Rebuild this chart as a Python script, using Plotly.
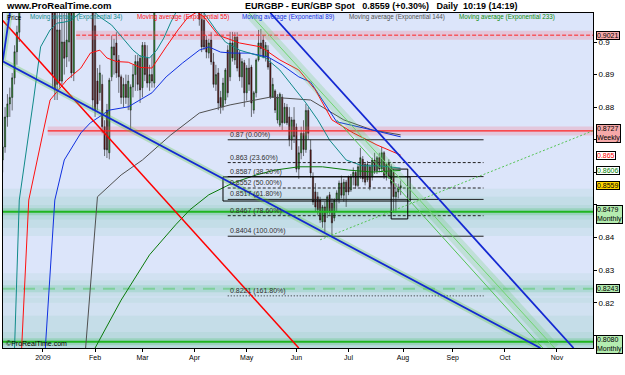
import pandas as pd
import plotly.graph_objects as go

# ---------------- candles: (open, high, low, close), one tuple per weekday ----------------
dec_2008 = [
    (0.8638, 0.8770, 0.8600, 0.8678), (0.8678, 0.8800, 0.8660, 0.8770), (0.8770, 0.8840, 0.8740, 0.8810),
    (0.8810, 0.8860, 0.8770, 0.8830), (0.8830, 0.8905, 0.8790, 0.8890), (0.8890, 0.8990, 0.8870, 0.8970),
    (0.8970, 0.9050, 0.8930, 0.9030), (0.9030, 0.9200, 0.9000, 0.9150), (0.9150, 0.9400, 0.9120, 0.9350),
    (0.9350, 0.9500, 0.9300, 0.9450), (0.9450, 0.9550, 0.9400, 0.9500), (0.9500, 0.9600, 0.9450, 0.9550),
    (0.9550, 0.9600, 0.9500, 0.9560), (0.9560, 0.9650, 0.9500, 0.9600), (0.9600, 0.9800, 0.9550, 0.9750),
    (0.9750, 0.9800, 0.9500, 0.9600), (0.9600, 0.9750, 0.9500, 0.9700),
]
jan_2009 = [
    (0.9700, 0.9720, 0.9600, 0.9650), (0.9650, 0.9700, 0.9450, 0.9500), (0.9500, 0.9550, 0.9300, 0.9350),
    (0.9350, 0.9400, 0.9150, 0.9200), (0.9200, 0.9250, 0.8860, 0.8900), (0.9100, 0.9150, 0.8822, 0.8853),
    (0.8870, 0.9100, 0.8822, 0.9037), (0.9037, 0.9120, 0.8860, 0.8880), (0.8880, 0.9100, 0.8870, 0.9000),
    (0.9000, 0.9100, 0.8900, 0.8950), (0.8954, 0.9100, 0.8923, 0.9006), (0.9000, 0.9150, 0.8940, 0.9100),
    (0.9150, 0.9200, 0.8890, 0.8905), (0.8905, 0.9300, 0.8880, 0.9250), (0.9250, 0.9400, 0.9200, 0.9350),
    (0.9350, 0.9500, 0.9300, 0.9450), (0.9450, 0.9550, 0.9350, 0.9400), (0.9400, 0.9450, 0.9250, 0.9300),
    (0.9300, 0.9400, 0.9150, 0.9200), (0.9200, 0.9350, 0.9120, 0.9300), (0.9300, 0.9400, 0.9150, 0.9250),
    (0.9250, 0.9300, 0.8790, 0.8822),
]
feb_2009 = [
    (0.9050, 0.9100, 0.8770, 0.8790), (0.8880, 0.8920, 0.8790, 0.8810), (0.8845, 0.8930, 0.8820, 0.8905),
    (0.8870, 0.8900, 0.8720, 0.8740), (0.8740, 0.8760, 0.8650, 0.8670), (0.8791, 0.8810, 0.8644, 0.8669),
    (0.8660, 0.8890, 0.8640, 0.8883), (0.8893, 0.9020, 0.8880, 0.8985), (0.8985, 0.9010, 0.8900, 0.8960),
    (0.8997, 0.9030, 0.8890, 0.8905), (0.8945, 0.8960, 0.8844, 0.8893), (0.8893, 0.8900, 0.8810, 0.8830),
    (0.8830, 0.8890, 0.8800, 0.8870), (0.8870, 0.8900, 0.8810, 0.8830), (0.8830, 0.8899, 0.8791, 0.8880),
    (0.8791, 0.8870, 0.8730, 0.8862), (0.8862, 0.8930, 0.8830, 0.8900), (0.8900, 0.8960, 0.8850, 0.8940),
    (0.8940, 0.8960, 0.8850, 0.8870), (0.8950, 0.8960, 0.8813, 0.8853),
]
mar_2009 = [
    (0.8860, 0.9000, 0.8830, 0.8990), (0.8990, 0.9000, 0.8880, 0.8900), (0.8950, 0.8990, 0.8860, 0.8874),
    (0.8874, 0.8930, 0.8850, 0.8900), (0.8900, 0.8960, 0.8860, 0.8880), (0.8874, 0.9200, 0.8860, 0.9150),
    (0.9150, 0.9350, 0.9120, 0.9300), (0.9300, 0.9400, 0.9250, 0.9350), (0.9350, 0.9450, 0.9250, 0.9300),
    (0.9300, 0.9350, 0.9200, 0.9250), (0.9250, 0.9300, 0.9150, 0.9200), (0.9200, 0.9350, 0.9180, 0.9300),
    (0.9300, 0.9500, 0.9250, 0.9450), (0.9450, 0.9550, 0.9350, 0.9400), (0.9400, 0.9450, 0.9300, 0.9350),
    (0.9350, 0.9400, 0.9200, 0.9250), (0.9250, 0.9300, 0.9150, 0.9200), (0.9200, 0.9300, 0.9130, 0.9250),
    (0.9250, 0.9350, 0.9150, 0.9200), (0.9200, 0.9300, 0.9150, 0.9250), (0.9250, 0.9400, 0.9200, 0.9300),
    (0.9300, 0.9350, 0.9200, 0.9250),
]
apr_2009 = [
    (0.9250, 0.9300, 0.9150, 0.9180), (0.9180, 0.9250, 0.9120, 0.9150), (0.9150, 0.9180, 0.9050, 0.9070),
    (0.9070, 0.9120, 0.8969, 0.8985), (0.9067, 0.9090, 0.8975, 0.8985), (0.9006, 0.9020, 0.8950, 0.8969),
    (0.8966, 0.9010, 0.8950, 0.8997), (0.9006, 0.9030, 0.8930, 0.8939), (0.8939, 0.8966, 0.8860, 0.8870),
    (0.8870, 0.8930, 0.8850, 0.8900), (0.8905, 0.8920, 0.8791, 0.8813), (0.8830, 0.8850, 0.8780, 0.8801),
    (0.8801, 0.8890, 0.8790, 0.8874), (0.8822, 0.8920, 0.8810, 0.8914), (0.8975, 0.8990, 0.8830, 0.8844),
    (0.8893, 0.9031, 0.8880, 0.8997), (0.8997, 0.9031, 0.8940, 0.8951), (0.8945, 0.9030, 0.8930, 0.9015),
    (0.9015, 0.9030, 0.8910, 0.8920), (0.8966, 0.8975, 0.8880, 0.8893), (0.8893, 0.8950, 0.8860, 0.8940),
    (0.8936, 0.8945, 0.8801, 0.8844),
]
may_2009 = [
    (0.8844, 0.8929, 0.8820, 0.8920), (0.8920, 0.8950, 0.8850, 0.8870), (0.8923, 0.8930, 0.8770, 0.8813),
    (0.8791, 0.8850, 0.8780, 0.8844), (0.8844, 0.8950, 0.8830, 0.8945), (0.8945, 0.9037, 0.8940, 0.8997),
    (0.8997, 0.9040, 0.8960, 0.8980), (0.9006, 0.9020, 0.8950, 0.8954), (0.8954, 0.9000, 0.8940, 0.8990),
    (0.8975, 0.8990, 0.8915, 0.8923), (0.8936, 0.8950, 0.8825, 0.8831), (0.8831, 0.8890, 0.8830, 0.8870),
    (0.8850, 0.8855, 0.8782, 0.8791), (0.8761, 0.8840, 0.8750, 0.8831), (0.8745, 0.8845, 0.8739, 0.8840),
    (0.8831, 0.8840, 0.8730, 0.8752), (0.8752, 0.8813, 0.8750, 0.8800), (0.8800, 0.8810, 0.8745, 0.8752),
    (0.8770, 0.8800, 0.8680, 0.8700), (0.8699, 0.8770, 0.8669, 0.8761), (0.8761, 0.8800, 0.8690, 0.8710),
]
jun_2009 = [
    (0.8739, 0.8750, 0.8600, 0.8610), (0.8610, 0.8680, 0.8580, 0.8660), (0.8660, 0.8740, 0.8640, 0.8720),
    (0.8720, 0.8760, 0.8650, 0.8670), (0.8670, 0.8810, 0.8660, 0.8790), (0.8790, 0.8800, 0.8700, 0.8720),
    (0.8669, 0.8700, 0.8583, 0.8598), (0.8586, 0.8600, 0.8500, 0.8509), (0.8540, 0.8567, 0.8480, 0.8494),
    (0.8525, 0.8540, 0.8470, 0.8485), (0.8515, 0.8525, 0.8445, 0.8454), (0.8448, 0.8500, 0.8430, 0.8494),
    (0.8494, 0.8510, 0.8417, 0.8448), (0.8476, 0.8530, 0.8460, 0.8525), (0.8531, 0.8540, 0.8470, 0.8479),
    (0.8506, 0.8520, 0.8402, 0.8445), (0.8460, 0.8520, 0.8450, 0.8515), (0.8515, 0.8545, 0.8480, 0.8537),
    (0.8515, 0.8575, 0.8505, 0.8567), (0.8567, 0.8590, 0.8520, 0.8530), (0.8530, 0.8580, 0.8510, 0.8570),
    (0.8570, 0.8577, 0.8494, 0.8540),
]
jul_2009 = [
    (0.8586, 0.8590, 0.8530, 0.8540), (0.8546, 0.8595, 0.8540, 0.8586), (0.8586, 0.8615, 0.8560, 0.8600),
    (0.8600, 0.8605, 0.8550, 0.8560), (0.8560, 0.8625, 0.8555, 0.8617), (0.8590, 0.8675, 0.8580, 0.8645),
    (0.8640, 0.8650, 0.8570, 0.8580), (0.8625, 0.8630, 0.8560, 0.8570), (0.8577, 0.8635, 0.8570, 0.8625),
    (0.8617, 0.8625, 0.8545, 0.8555), (0.8586, 0.8645, 0.8575, 0.8638), (0.8638, 0.8660, 0.8595, 0.8605),
    (0.8605, 0.8650, 0.8595, 0.8645), (0.8645, 0.8660, 0.8600, 0.8610), (0.8610, 0.8678, 0.8600, 0.8660),
    (0.8660, 0.8665, 0.8580, 0.8590), (0.8590, 0.8630, 0.8575, 0.8625), (0.8629, 0.8640, 0.8580, 0.8586),
    (0.8567, 0.8625, 0.8560, 0.8617), (0.8600, 0.8610, 0.8476, 0.8525), (0.8525, 0.8567, 0.8476, 0.8540),
    (0.8540, 0.8565, 0.8520, 0.8552), (0.8552, 0.8575, 0.8530, 0.8559),
]

# ---------------- moving averages (read at sample dates) ----------------
ema34_dates = ["2008-12-16", "2008-12-18", "2008-12-26", "2008-12-31", "2009-01-06", "2009-01-09", "2009-01-14",
               "2009-01-19", "2009-01-28", "2009-02-04", "2009-02-11", "2009-02-19", "2009-02-24", "2009-02-27",
               "2009-03-05", "2009-03-10", "2009-03-13", "2009-03-18", "2009-03-20", "2009-03-27", "2009-04-01",
               "2009-04-07", "2009-04-14", "2009-04-20", "2009-04-28", "2009-05-07", "2009-05-13", "2009-05-21",
               "2009-05-29", "2009-06-05", "2009-06-12", "2009-06-19", "2009-06-30", "2009-07-09", "2009-07-20",
               "2009-07-31"]
ema34_vals = [0.8061, 0.8515, 0.8822, 0.8985, 0.9037, 0.9058, 0.9061,
              0.9067, 0.9110, 0.9077, 0.9052, 0.9000, 0.8975, 0.8957,
              0.8951, 0.8975, 0.9012, 0.9061, 0.9089, 0.9150, 0.9120,
              0.9089, 0.9037, 0.9000, 0.8975, 0.8960, 0.8951, 0.8914,
              0.8859, 0.8813, 0.8761, 0.8699, 0.8638, 0.8620, 0.8620,
              0.8613]

ema55_dates = ["2008-12-19", "2008-12-24", "2009-01-01", "2009-01-06", "2009-01-15", "2009-01-23", "2009-01-29",
               "2009-02-04", "2009-02-09", "2009-02-13", "2009-02-20", "2009-02-27", "2009-03-06",
               "2009-03-11", "2009-03-16", "2009-03-23", "2009-03-27", "2009-04-02", "2009-04-07", "2009-04-15",
               "2009-04-28", "2009-05-11", "2009-05-21", "2009-06-02", "2009-06-11", "2009-06-22", "2009-07-03",
               "2009-07-17", "2009-07-31"]
ema55_vals = [0.8061, 0.8515, 0.8721, 0.8822, 0.8883, 0.8920, 0.8966,
              0.8975, 0.8951, 0.8940, 0.8938, 0.8922, 0.8920,
              0.8954, 0.8985, 0.9037, 0.9074, 0.9092, 0.9077, 0.9021,
              0.8997, 0.8985, 0.8945, 0.8914, 0.8853, 0.8761, 0.8721,
              0.8684, 0.8653]

ema89_dates = ["2009-01-02", "2009-01-08", "2009-01-14", "2009-01-23", "2009-01-29", "2009-02-10", "2009-02-20",
               "2009-02-27", "2009-03-06", "2009-03-16", "2009-03-25", "2009-04-03", "2009-04-09", "2009-04-16",
               "2009-04-23", "2009-05-04", "2009-05-14", "2009-05-22", "2009-06-02", "2009-06-09", "2009-06-24",
               "2009-07-15", "2009-07-31"]
ema89_vals = [0.8061, 0.8515, 0.8638, 0.8721, 0.8752, 0.8791, 0.8801,
              0.8822, 0.8844, 0.8893, 0.8936, 0.8975, 0.8985, 0.8969,
              0.8966, 0.8966, 0.8954, 0.8929, 0.8893, 0.8877, 0.8755,
              0.8730, 0.8709]

ema144_dates = ["2009-01-27", "2009-02-03", "2009-02-17", "2009-03-02", "2009-03-18", "2009-04-03", "2009-04-22",
                "2009-05-15", "2009-06-09", "2009-06-29", "2009-07-15", "2009-07-31"]
ema144_vals = [0.8061, 0.8525, 0.8592, 0.8638, 0.8715, 0.8782, 0.8807,
               0.8831, 0.8822, 0.8761, 0.8730, 0.8715]

ema233_dates = ["2009-02-02", "2009-02-17", "2009-03-05", "2009-03-20", "2009-03-30", "2009-04-09", "2009-04-23",
                "2009-05-07", "2009-05-19", "2009-06-02", "2009-06-16", "2009-07-01", "2009-07-15", "2009-07-31"]
ema233_vals = [0.8061, 0.8208, 0.8347, 0.8439, 0.8485, 0.8531, 0.8567,
               0.8592, 0.8607, 0.8617, 0.8617, 0.8607, 0.8601, 0.8606]

# ---------------- drawn objects ----------------
red_trend_dates, red_trend_vals = ["2008-12-09", "2009-06-02"], [0.9066, 0.8061]
blue_trend1_dates, blue_trend1_vals = ["2008-12-12", "2008-12-09", "2009-10-22"], [0.9089, 0.8941, 0.8061]
blue_trend2_dates, blue_trend2_vals = ["2009-05-15", "2009-11-11"], [0.9089, 0.8061]
green_chan_a_dates, green_chan_a_vals = ["2009-05-04", "2009-10-30"], [0.9089, 0.8061]
green_chan_b_dates, green_chan_b_vals = ["2009-06-24", "2009-10-23"], [0.8761, 0.8061]
green_dotted_dates, green_dotted_vals = ["2009-06-15", "2009-11-23"], [0.8393, 0.8727]

red_levels = [0.9021, 0.8727]
red_level_start = ["2009-01-21", "2009-01-05"]
green_levels = [0.8479, 0.8243, 0.8080]

fib_prices = [0.8700, 0.8630, 0.8587, 0.8552, 0.8517, 0.8467, 0.8404, 0.8221]
fib_texts = ["0.87 (0.00%)", "0.863 (23.60%)", "0.8587 (38.20%)", "0.8552 (50.00%)", "0.8517 (61.80%)",
             "0.8467 (78.60%)", "0.8404 (100.00%)", "0.8221 (161.80%)"]
fib_dash = ["solid", "3px,2px", "solid", "3px,2px", "solid", "3px,2px", "solid", "1px,2px"]
fib_start, fib_end = "2009-04-21", "2009-09-18"

big_box_dates, big_box_vals = ["2009-04-17", "2009-08-06"], [0.8512, 0.8586]
small_box_dates, small_box_vals = ["2009-07-27", "2009-08-05"], [0.8457, 0.8610]

month_tick_dates = ["2009-01-01", "2009-02-02", "2009-03-02", "2009-04-01", "2009-05-01", "2009-06-01",
                    "2009-07-01", "2009-08-03", "2009-09-01", "2009-10-01", "2009-11-02"]
month_tick_text = ["2009", "Feb", "Mar", "Apr", "May", "Jun", "Jul", "Aug", "Sep", "Oct", "Nov"]
price_ticks = [0.81, 0.82, 0.83, 0.84, 0.85, 0.86, 0.87, 0.88, 0.89, 0.90]
price_tick_text = ["", "0.82", "0.83", "0.84", "", "", "", "0.88", "0.89", "0.9"]

right_labels = [
    (0.9021, "0.9021", "#f6a9a9", "#000000"),
    (0.8720, "0.8727<br>Weekly", "#f6a9a9", "#000000"),
    (0.8651, "0.865", "#ffffff", "#ff0000"),
    (0.8605, "0.8606", "#ffffff", "#008000"),
    (0.8559, "0.8559", "#ffd400", "#000000"),
    (0.8470, "0.8479<br>Monthly", "#b4ecb0", "#000000"),
    (0.8243, "0.8243", "#b4ecb0", "#000000"),
    (0.8071, "0.8080<br>Monthly", "#b4ecb0", "#000000"),
]

# ---------------- build ----------------
HALF = pd.Timedelta(hours=12)


def d(s):
    return pd.Timestamp(s) + HALF


def ds(lst):
    return [d(s) for s in lst]


X_LEFT, X_RIGHT = pd.Timestamp("2008-12-09 15:00"), pd.Timestamp("2009-11-23 17:00")
Y_LOW, Y_HIGH = 0.8061, 0.9089

ohlc = [r for m in (dec_2008, jan_2009, feb_2009, mar_2009, apr_2009, may_2009, jun_2009, jul_2009) for r in m]
days = [t + HALF for t in pd.bdate_range("2008-12-09", periods=len(ohlc))]

fig = go.Figure()


def line(xs, ys, color, width=1.0, dash="solid", glow=None, glow_w=8):
    if glow:
        fig.add_trace(go.Scatter(x=xs, y=ys, mode="lines", hoverinfo="skip", showlegend=False,
                                 line=dict(color=glow, width=glow_w)))
    fig.add_trace(go.Scatter(x=xs, y=ys, mode="lines", hoverinfo="skip", showlegend=False,
                             line=dict(color=color, width=width, dash=dash)))


# soft green bands around the monthly levels
shapes = []
for lo, hi, op in [(0.8405, 0.8550, 0.08), (0.8430, 0.8525, 0.08), (0.8455, 0.8500, 0.08),
                   (0.8200, 0.8290, 0.07), (0.8220, 0.8268, 0.07),
                   (0.8061, 0.8215, 0.07), (0.8061, 0.8160, 0.08), (0.8061, 0.8110, 0.08)]:
    shapes.append(dict(type="rect", xref="paper", x0=0, x1=1, yref="y", y0=lo, y1=hi,
                       fillcolor=f"rgba(70,180,130,{op})", line=dict(width=0), layer="below"))

# horizontal levels
for p, s in zip(red_levels, red_level_start):
    line([d(s), X_RIGHT], [p, p], "#ff2020", 1.2 if p < 0.89 else 1.0,
         dash="solid" if p < 0.89 else "4px,2px", glow="rgba(255,90,110,0.22)", glow_w=9)
line([X_LEFT, X_RIGHT], [green_levels[0]] * 2, "#1fb51f", 2, glow="rgba(60,190,90,0.25)", glow_w=7)
line([X_LEFT, X_RIGHT], [green_levels[1]] * 2, "#7fcf9a", 2, dash="12px,8px", glow="rgba(60,190,120,0.18)", glow_w=7)
line([X_LEFT, X_RIGHT], [green_levels[2]] * 2, "#1fb51f", 2, glow="rgba(60,190,90,0.25)", glow_w=7)

# moving averages
line(ds(ema144_dates), ema144_vals, "#505050", 1)
line(ds(ema233_dates), ema233_vals, "#0a7a0a", 1)
line(ds(ema89_dates), ema89_vals, "#1030e0", 1)
line(ds(ema55_dates), ema55_vals, "#ff1010", 1)
line(ds(ema34_dates), ema34_vals, "#108a8a", 1)

# fibonacci levels
for p, dash in zip(fib_prices, fib_dash):
    line([d(fib_start), d(fib_end)], [p, p], "#202020", 1, dash=dash)

# boxes
bx, by = ds(big_box_dates), big_box_vals
line([bx[0], bx[1], bx[1], bx[0], bx[0]], [by[0], by[0], by[1], by[1], by[0]], "#000000", 1)
sx, sy = ds(small_box_dates), small_box_vals
line([sx[0], sx[1], sx[1], sx[0], sx[0]], [sy[0], sy[0], sy[1], sy[1], sy[0]], "#000000", 1)

# candles
fig.add_trace(go.Candlestick(
    x=days, open=[r[0] for r in ohlc], high=[r[1] for r in ohlc], low=[r[2] for r in ohlc],
    close=[r[3] for r in ohlc], showlegend=False, hoverinfo="skip", whiskerwidth=0,
    increasing=dict(fillcolor="#22aa22", line=dict(color="#1a1a1a", width=0.6)),
    decreasing=dict(fillcolor="#6a0f0f", line=dict(color="#1a1a1a", width=0.6)),
))

# trend lines
line(ds(green_chan_a_dates), green_chan_a_vals, "#6fd46f", 1, glow="rgba(80,200,80,0.20)", glow_w=10)
line(ds(green_chan_b_dates), green_chan_b_vals, "#55c455", 1)
line(ds(green_dotted_dates), green_dotted_vals, "#55c455", 1, dash="2px,2px")
line(ds(red_trend_dates), red_trend_vals, "#ff0000", 1.5)
line(ds(blue_trend1_dates), blue_trend1_vals, "#1428d2", 1.8, glow="rgba(90,200,60,0.30)", glow_w=6)
line(ds(blue_trend2_dates), blue_trend2_vals, "#1428d2", 1.8)

ann = []
FONT = "Arial, Liberation Sans, sans-serif"


def px_x(px):
    return (px - 3) / 590


def px_y(py):
    return (348 - py) / 335


for p, t in zip(fib_prices, fib_texts):
    ann.append(dict(x=d(fib_start), y=p, xref="x", yref="y", text=t, showarrow=False, xanchor="left",
                    yanchor="bottom", xshift=0, yshift=-1, font=dict(size=7, color="#303030", family=FONT)))
for p, t, bg, fc in right_labels:
    ann.append(dict(x=1, y=p, xref="paper", yref="y", text=t, showarrow=False, xanchor="left", yanchor="middle",
                    xshift=3, align="left", bgcolor=bg, bordercolor="#000000", borderwidth=1, borderpad=0,
                    font=dict(size=7, color=fc, family=FONT)))

legend_items = [("Price", "#000000", 5), ("Moving average (Exponential 34)", "#108a8a", 28),
                ("Moving average (Exponential 55)", "#ff1010", 135),
                ("Moving average (Exponential 89)", "#1030e0", 240),
                ("Moving average (Exponential 144)", "#505050", 347),
                ("Moving average (Exponential 233)", "#0a8a0a", 457)]
for t, c, px in legend_items:
    ann.append(dict(x=px_x(px), y=px_y(17), xref="paper", yref="paper", text=t, showarrow=False,
                    xanchor="left", yanchor="middle", font=dict(size=6.3, color=c, family=FONT)))
ann.append(dict(x=px_x(4), y=px_y(343), xref="paper", yref="paper", text="©ProRealTime.com",
                showarrow=False, xanchor="left", yanchor="middle", font=dict(size=7, color="#000000", family=FONT)))
ann.append(dict(x=px_x(4), y=px_y(6), xref="paper", yref="paper", text="<b>www.ProRealTime.com</b>",
                showarrow=False, xanchor="left", yanchor="middle", font=dict(size=9.5, color="#000000", family=FONT)))
ann.append(dict(x=px_x(243), y=px_y(6), xref="paper", yref="paper",
                text="<b>EURGBP - EUR/GBP Spot&nbsp;&nbsp;&nbsp;0.8559 (+0.30%)&nbsp;&nbsp;&nbsp;Daily&nbsp;&nbsp;10:19 (14:19)</b>",
                showarrow=False, xanchor="left", yanchor="middle", font=dict(size=9, color="#000000", family=FONT)))

fig.update_layout(
    width=625, height=375, margin=dict(l=3, r=32, t=13, b=27),
    paper_bgcolor="#ffffff", plot_bgcolor="#dce5fa",
    shapes=shapes, annotations=ann, showlegend=False,
    xaxis=dict(type="date", range=[X_LEFT, X_RIGHT], rangebreaks=[dict(bounds=["sat", "mon"])],
               rangeslider=dict(visible=False), tickvals=ds(month_tick_dates), ticktext=month_tick_text,
               ticks="outside", ticklen=3, tickcolor="#000000", showgrid=False, showline=True, linecolor="#000000",
               mirror=True, zeroline=False, tickfont=dict(size=7, color="#000000", family=FONT)),
    yaxis=dict(range=[Y_LOW, Y_HIGH], side="right", tickvals=price_ticks, ticktext=price_tick_text,
               ticks="outside", ticklen=3, tickcolor="#000000", showgrid=False, showline=True, linecolor="#000000",
               mirror=True, zeroline=False, tickfont=dict(size=8, color="#000000", family=FONT)),
)

fig.write_html("out.html")
